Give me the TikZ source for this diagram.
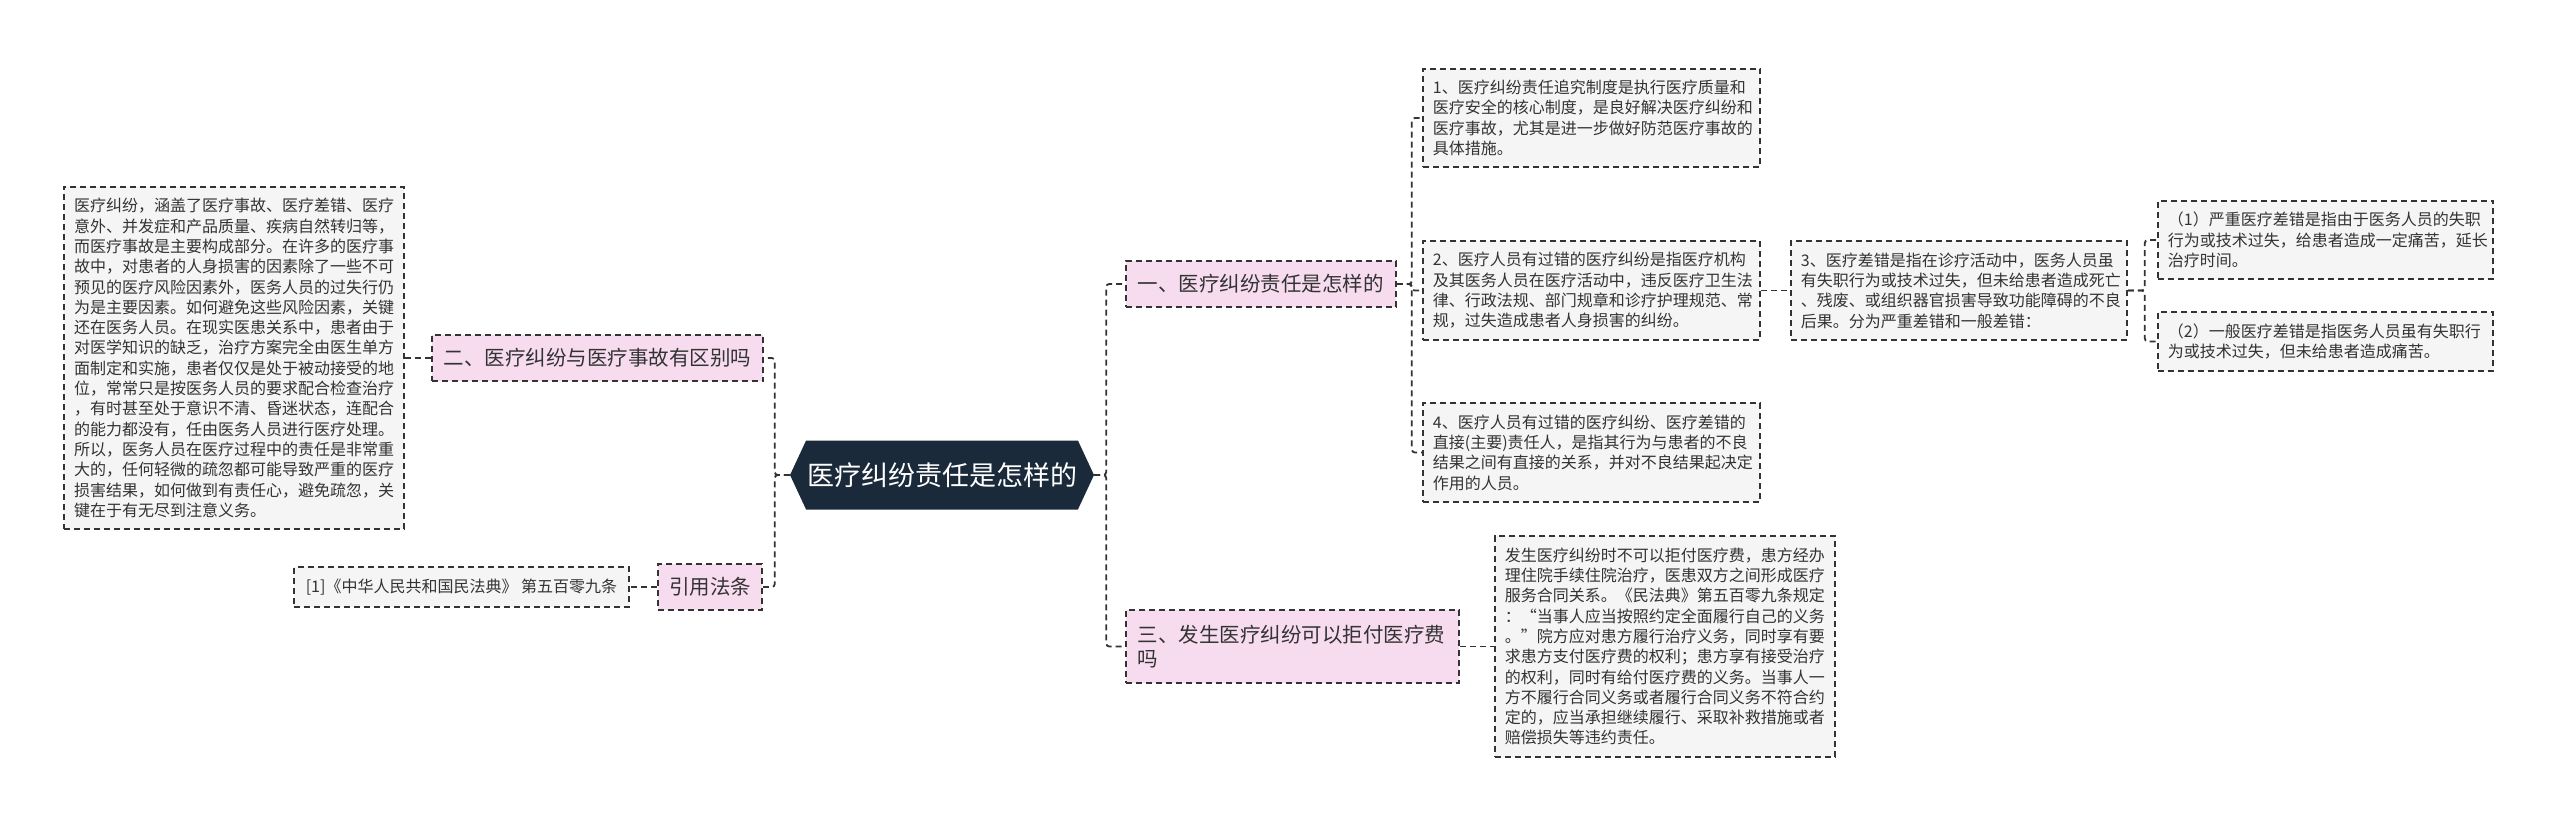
\documentclass[tikz,border=0pt]{standalone}
\usepackage{fontspec}
\setmainfont{Noto Sans CJK SC}
\usepackage{tikz}
\usetikzlibrary{shapes.symbols,positioning,calc}

\definecolor{rootbg}{HTML}{1B2A3A}
\definecolor{pinkbg}{HTML}{F7DCEF}
\definecolor{notebg}{HTML}{F5F5F5}
\definecolor{edgegray}{HTML}{333333}
\definecolor{inkgray}{HTML}{333333}

\begin{document}
\begin{tikzpicture}[x=1pt,y=-1pt,
  dashline/.style={draw=edgegray,line width=1.8pt,dash pattern=on 6pt off 4pt},
  link/.style={dashline,rounded corners=3pt},
  topic/.style={dashline,fill=pinkbg,text=inkgray,font=\fontsize{20.5}{24}\selectfont,inner xsep=12pt,inner ysep=13.5pt,align=left},
  note/.style={dashline,fill=notebg,text=inkgray,font=\fontsize{16}{20.3}\selectfont,inner xsep=10pt,inner ysep=11.5pt,align=left}]
  \useasboundingbox (0,0) rectangle (2560,828);

  % centre
  \node[signal,signal to=west and east,signal pointer angle=130,fill=rootbg,text=white,
        font=\fontsize{27}{30}\selectfont,minimum width=304pt,minimum height=69pt,inner sep=0pt] (root) at (942,475) {医疗纠纷责任是怎样的};

  % right side
  \node[topic,anchor=west] (one) at (1125,284) {一、医疗纠纷责任是怎样的};
  \node[topic,anchor=west,text width=309pt,inner ysep=15pt] (three) at (1125,646.5) {三、发生医疗纠纷可以拒付医疗费\\吗};

  \node[note,anchor=west,text width=317pt] (t1) at (1422,118) {1、医疗纠纷责任追究制度是执行医疗质量和\\医疗安全的核心制度，是良好解决医疗纠纷和\\医疗事故，尤其是进一步做好防范医疗事故的\\具体措施。};
  \node[note,anchor=west,text width=317pt] (t2) at (1422,290.5) {2、医疗人员有过错的医疗纠纷是指医疗机构\\及其医务人员在医疗活动中，违反医疗卫生法\\律、行政法规、部门规章和诊疗护理规范、常\\规，过失造成患者人身损害的纠纷。};
  \node[note,anchor=west,text width=317pt] (t4) at (1422,452.5) {4、医疗人员有过错的医疗纠纷、医疗差错的\\直接(主要)责任人，是指其行为与患者的不良\\结果之间有直接的关系，并对不良结果起决定\\作用的人员。};
  \node[note,anchor=west,text width=316pt] (t3) at (1790,290.5) {3、医疗差错是指在诊疗活动中，医务人员虽\\有失职行为或技术过失，但未给患者造成死亡\\、残废、或组织器官损害导致功能障碍的不良\\后果。分为严重差错和一般差错：};
  \node[note,anchor=west,text width=315pt] (t31) at (2157,240) {（1）严重医疗差错是指由于医务人员的失职\\行为或技术过失，给患者造成一定痛苦，延长\\治疗时间。};
  \node[note,anchor=west,text width=315pt] (t32) at (2157,341.5) {（2）一般医疗差错是指医务人员虽有失职行\\为或技术过失，但未给患者造成痛苦。};
  \node[note,anchor=west,text width=320pt] (threetext) at (1494,646.5) {发生医疗纠纷时不可以拒付医疗费，患方经办\\理住院手续住院治疗，医患双方之间形成医疗\\服务合同关系。《民法典》第五百零九条规定\\：“当事人应当按照约定全面履行自己的义务\\。”院方应对患方履行治疗义务，同时享有要\\求患方支付医疗费的权利；患方享有接受治疗\\的权利，同时有给付医疗费的义务。当事人一\\方不履行合同义务或者履行合同义务不符合约\\定的，应当承担继续履行、采取补救措施或者\\赔偿损失等违约责任。};

  % left side
  \node[topic,anchor=east] (two) at (764,358) {二、医疗纠纷与医疗事故有区别吗};
  \node[topic,anchor=east,inner xsep=11pt] (law) at (763,587) {引用法条};
  \node[note,anchor=east,text width=320pt] (twotext) at (405,358) {医疗纠纷，涵盖了医疗事故、医疗差错、医疗\\意外、并发症和产品质量、疾病自然转归等，\\而医疗事故是主要构成部分。在许多的医疗事\\故中，对患者的人身损害的因素除了一些不可\\预见的医疗风险因素外，医务人员的过失行仍\\为是主要因素。如何避免这些风险因素，关键\\还在医务人员。在现实医患关系中，患者由于\\对医学知识的缺乏，治疗方案完全由医生单方\\面制定和实施，患者仅仅是处于被动接受的地\\位，常常只是按医务人员的要求配合检查治疗\\，有时甚至处于意识不清、昏迷状态，连配合\\的能力都没有，任由医务人员进行医疗处理。\\所以，医务人员在医疗过程中的责任是非常重\\大的，任何轻微的疏忽都可能导致严重的医疗\\损害结果，如何做到有责任心，避免疏忽，关\\键在于有无尽到注意义务。};
  \node[note,anchor=east,inner xsep=12pt] (lawtext) at (630,587) {[1]《中华人民共和国民法典》 第五百零九条};

  % links
  \draw[link] (root.east) -- ++(12,0) |- (one.west);
  \draw[link] (root.east) -- ++(12,0) |- (three.west);
  \draw[link] (root.west) -- ++(-15,0) |- (two.east);
  \draw[link] (root.west) -- ++(-15,0) |- (law.east);
  \draw[link] (one.east) -- ++(15,0) |- (t1.west);
  \draw[link] (one.east) -- ++(15,0) |- (t2.west);
  \draw[link] (one.east) -- ++(15,0) |- (t4.west);
  \draw[link] (t2.east) -- (t3.west);
  \draw[link] (t3.east) -- ++(17,0) |- (t31.west);
  \draw[link] (t3.east) -- ++(17,0) |- (t32.west);
  \draw[link] (three.east) -- (threetext.west);
  \draw[link] (two.west) -- (twotext.east);
  \draw[link] (law.west) -- (lawtext.east);
\end{tikzpicture}
\end{document}
